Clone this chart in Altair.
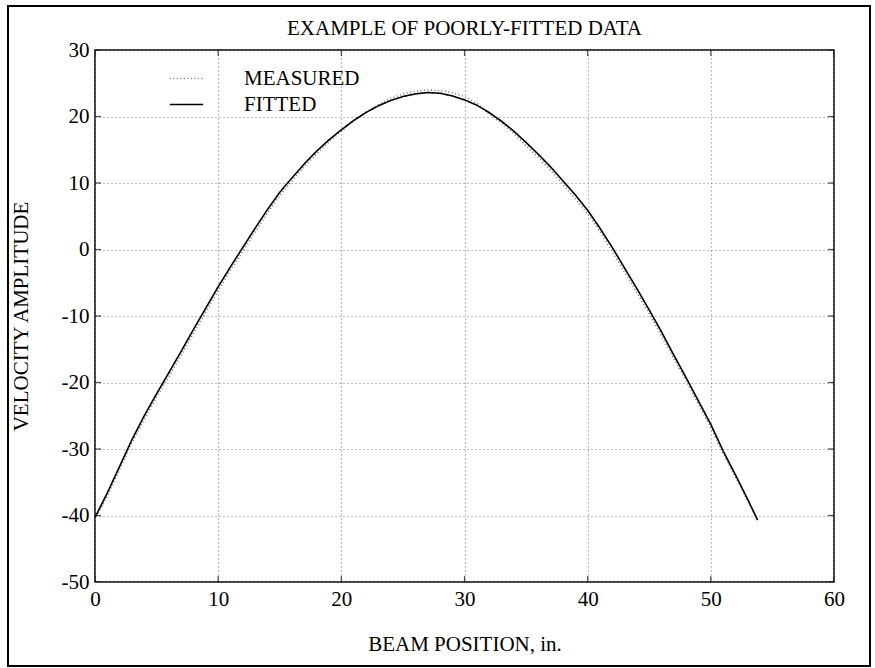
import altair as alt
import pandas as pd

# ---- data ----
x_fit = [0, 1, 2, 3, 4, 5, 6, 7, 8, 9, 10, 11, 12, 13, 14, 15, 16, 17, 18, 19,
         20, 21, 22, 23, 24, 25, 26, 27, 28, 29, 30, 31, 32, 33, 34, 35, 36, 37,
         38, 39, 40, 41, 42, 43, 44, 45, 46, 47, 48, 49, 50, 51, 52, 53, 53.8]
y_fit = [-40.3, -36.6, -32.6, -28.6, -25.0, -21.7, -18.5, -15.3, -12.0, -8.8,
         -5.6, -2.6, 0.3, 3.2, 6.0, 8.6, 10.8, 12.9, 14.8, 16.5,
         18.0, 19.4, 20.6, 21.6, 22.4, 23.0, 23.4, 23.6, 23.5, 23.1,
         22.5, 21.7, 20.6, 19.3, 17.8, 16.1, 14.3, 12.4, 10.3, 8.2,
         5.9, 3.2, 0.3, -2.8, -5.9, -9.1, -12.4, -15.9, -19.3, -22.8,
         -26.3, -30.3, -33.9, -37.6, -40.7]

x_meas = x_fit
y_meas = [-40.6, -37.1, -33.1, -29.0, -25.6, -22.2, -19.1, -15.9, -12.6, -9.4,
          -6.2, -3.1, -0.3, 2.6, 5.5, 8.1, 10.3, 12.5, 14.4, 16.2,
          17.8, 19.3, 20.6, 21.8, 22.7, 23.4, 23.8, 24.0, 23.9, 23.6,
          23.0, 22.0, 20.4, 19.0, 17.5, 15.6, 13.8, 11.9, 9.8, 7.6,
          5.4, 2.7, -0.3, -3.4, -6.5, -9.7, -13.0, -16.4, -19.8, -23.3,
          -26.8, -30.7, -34.2, -37.8, -40.7]

series_names = ["MEASURED", "FITTED"]
x_ticks = [0, 10, 20, 30, 40, 50, 60]
y_ticks = [-50, -40, -30, -20, -10, 0, 10, 20, 30]

title_text = "EXAMPLE OF POORLY-FITTED DATA"
x_title = "BEAM POSITION, in."
y_title = "VELOCITY AMPLITUDE"

# ---- tables ----
df = pd.concat([
    pd.DataFrame({"x": x_meas, "y": y_meas, "series": series_names[0],
                  "order": range(len(x_meas))}),
    pd.DataFrame({"x": x_fit, "y": y_fit, "series": series_names[1],
                  "order": range(len(x_fit))}),
], ignore_index=True)
xt = pd.DataFrame({"x": x_ticks})
yt = pd.DataFrame({"y": y_ticks})

FONT = "Liberation Serif"
W, H = 739, 532

xscale = alt.Scale(domain=[0, 60], nice=False, zero=False)
yscale = alt.Scale(domain=[-50, 30], nice=False, zero=False)

common_axis = dict(grid=True, gridDash=[1, 3], gridColor="#777", gridWidth=1,
                   domain=False, ticks=False, labelFont=FONT, labelFontSize=21,
                   labelColor="black", titleFont=FONT, titleFontSize=21,
                   titleFontWeight="normal", titleColor="black",
                   labelExpr="'' + datum.value")

xaxis = alt.Axis(values=x_ticks, title=x_title, labelPadding=6,
                 titlePadding=24, labelFlush=False, **common_axis)
yaxis = alt.Axis(values=y_ticks, title=y_title, labelPadding=6,
                 titlePadding=30, **common_axis)

legend = alt.Legend(title=None, orient="none", legendX=81, legendY=18,
                    symbolType="M-1.8,0H1.8", symbolSize=342, symbolStrokeWidth=1.5,
                    labelFont=FONT, labelFontSize=21, labelColor="black",
                    labelOffset=47, rowPadding=4, padding=0)

lines = alt.Chart(df).mark_line(strokeWidth=1.6).encode(
    x=alt.X("x:Q", scale=xscale, axis=xaxis),
    y=alt.Y("y:Q", scale=yscale, axis=yaxis),
    color=alt.Color("series:N", scale=alt.Scale(domain=series_names,
                                                range=["#777777", "#000000"]),
                    legend=legend),
    strokeDash=alt.StrokeDash("series:N",
                              scale=alt.Scale(domain=series_names,
                                              range=[[1, 2.5], [1, 0]]),
                              legend=legend),
    order="order:Q",
)

tick_kw = dict(size=12, thickness=1.2, clip=True, color="black")
tb = alt.Chart(xt).mark_tick(orient="vertical", **tick_kw).encode(
    x=alt.X("x:Q", scale=xscale, axis=xaxis), y=alt.datum(-50))
tt = alt.Chart(xt).mark_tick(orient="vertical", **tick_kw).encode(
    x=alt.X("x:Q", scale=xscale, axis=xaxis), y=alt.datum(30))
tl = alt.Chart(yt).mark_tick(orient="horizontal", **tick_kw).encode(
    y=alt.Y("y:Q", scale=yscale, axis=yaxis), x=alt.datum(0))
tr = alt.Chart(yt).mark_tick(orient="horizontal", **tick_kw).encode(
    y=alt.Y("y:Q", scale=yscale, axis=yaxis), x=alt.datum(60))

frame = alt.Chart(pd.DataFrame({"a": [0]})).mark_rect(
    fillOpacity=0, stroke="black", strokeWidth=2).encode(
    x=alt.value(-87), x2=alt.value(775), y=alt.value(-44), y2=alt.value(616))

chart = alt.layer(lines, tb, tt, tl, tr, frame).properties(
    width=W, height=H,
    title=alt.TitleParams(title_text, font=FONT, fontSize=21,
                          fontWeight="normal", color="black",
                          anchor="middle", frame="group", baseline="alphabetic",
                          offset=0, dy=51),
    autosize=alt.AutoSizeParams(type="none"),
    padding={"left": 95, "top": 50, "right": 41, "bottom": 86},
    background="white",
).configure_view(stroke="black", strokeWidth=1.5)

chart.save("out.html", embed_options={"renderer": "svg", "actions": False})
